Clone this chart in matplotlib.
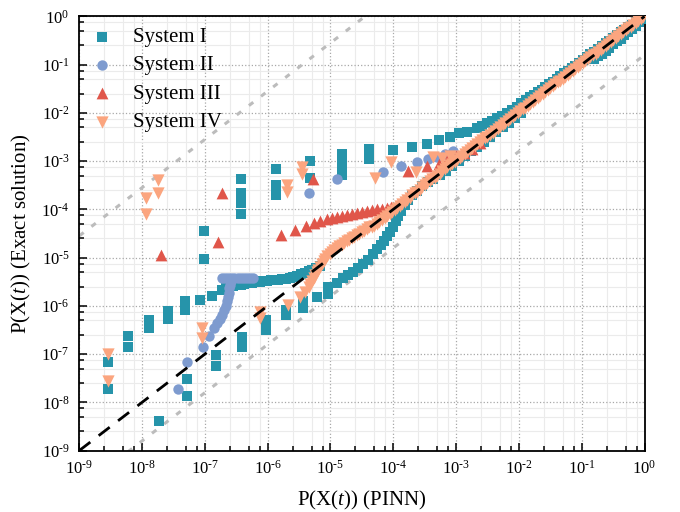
import numpy as np
import matplotlib
matplotlib.use('Agg')
import matplotlib.pyplot as plt
from matplotlib.ticker import LogLocator, FuncFormatter, NullFormatter

plt.rcParams['font.family'] = 'Liberation Serif'
plt.rcParams['mathtext.fontset'] = 'custom'
plt.rcParams['mathtext.rm'] = 'Liberation Serif'
plt.rcParams['mathtext.it'] = 'Liberation Serif:italic'

# all values are log10 of the probabilities (x = PINN, y = exact)
sys1_pts = [
    # scattered low-probability points
    (-8.55, -7.16), (-8.55, -7.73), (-8.22, -6.63), (-8.22, -6.85),
    (-7.89, -6.30), (-7.89, -6.45), (-7.59, -6.10), (-7.59, -6.27),
    (-7.32, -5.90), (-7.32, -6.08), (-7.73, -8.38), (-7.28, -7.52),
    (-7.28, -7.87), (-6.83, -7.02), (-6.83, -7.24), (-6.41, -6.65),
    (-6.41, -6.85), (-7.08, -5.88), (-6.89, -5.80), (-7.01, -4.44),
    (-7.01, -5.03), (-6.42, -3.37), (-6.42, -3.66), (-6.42, -3.86),
    (-6.42, -4.09), (-5.87, -3.17), (-5.87, -3.50), (-5.87, -3.70),
    (-5.33, -3.00), (-5.33, -3.34), (-4.82, -2.85), (-4.82, -3.00),
    (-4.82, -3.15), (-4.82, -3.28), (-4.38, -2.75), (-4.38, -2.95),
    # upper branch
    (-4.00, -2.77), (-3.71, -2.71), (-3.46, -2.65), (-3.28, -2.56),
    (-3.10, -2.50), (-2.96, -2.42), (-2.83, -2.39), (-2.67, -2.32),
    (-2.59, -2.28), (-2.51, -2.22), (-2.43, -2.17), (-2.35, -2.11),
    (-2.27, -2.06), (-2.19, -2.01), (-2.11, -1.94), (-2.03, -1.87),
    (-1.96, -1.80), (-1.88, -1.73), (-1.82, -1.67), (-1.76, -1.62),
    (-1.70, -1.57), (-1.64, -1.52), (-1.58, -1.46), (-1.52, -1.41),
    (-1.46, -1.35), (-1.40, -1.30), (-1.34, -1.24), (-1.28, -1.18),
    (-1.22, -1.13), (-1.16, -1.07), (-1.10, -1.02), (-1.04, -0.96),
    (-0.98, -0.90), (-0.92, -0.84), (-0.86, -0.79), (-0.80, -0.73),
    (-0.74, -0.67), (-0.68, -0.61), (-0.62, -0.56), (-0.56, -0.50),
    (-0.50, -0.44), (-0.44, -0.39), (-0.38, -0.33), (-0.32, -0.28),
    (-0.26, -0.22), (-0.20, -0.17), (-0.14, -0.11), (-0.08, -0.06),
    (-0.03, -0.02), (0.00, 0.00),
    # plateau branch
    (-6.73, -5.67), (-6.67, -5.64), (-6.61, -5.61), (-6.55, -5.59),
    (-6.49, -5.57), (-6.43, -5.56), (-6.37, -5.54), (-6.31, -5.53),
    (-6.25, -5.52), (-6.19, -5.51), (-6.13, -5.50), (-6.07, -5.49),
    (-6.01, -5.48), (-5.95, -5.47), (-5.89, -5.47), (-5.83, -5.46),
    (-5.77, -5.45), (-5.71, -5.44), (-5.65, -5.42), (-5.59, -5.40),
    (-5.53, -5.38), (-5.47, -5.35), (-5.41, -5.32), (-5.35, -5.28),
    (-5.29, -5.25), (-5.23, -5.21), (-5.17, -5.17),
    # lower S branch
    (-6.02, -6.30), (-6.02, -6.50), (-5.71, -6.08), (-5.71, -6.20),
    (-5.44, -5.90), (-5.44, -6.05), (-5.22, -5.81), (-5.04, -5.60),
    (-5.04, -5.75), (-4.90, -5.53), (-4.80, -5.43), (-4.72, -5.36),
    (-4.64, -5.29), (-4.56, -5.22), (-4.48, -5.14), (-4.40, -5.04),
    (-4.32, -4.92), (-4.26, -4.83), (-4.20, -4.74), (-4.15, -4.65),
    (-4.10, -4.56), (-4.05, -4.46), (-4.00, -4.36), (-3.96, -4.25),
    (-3.92, -4.14), (-3.87, -4.03), (-3.82, -3.92), (-3.76, -3.81),
    (-3.70, -3.71), (-3.62, -3.61), (-3.54, -3.52), (-3.45, -3.44),
    (-3.36, -3.37), (-3.26, -3.29), (-3.16, -3.20), (-3.06, -3.10),
    (-2.96, -3.00), (-2.86, -2.90), (-2.76, -2.80), (-2.66, -2.70),
    (-2.56, -2.60), (-2.46, -2.50), (-2.36, -2.40), (-2.26, -2.30),
    (-2.16, -2.20), (-2.06, -2.10), (-1.96, -2.00),
    (-0.80, -0.89), (-0.74, -0.83), (-0.68, -0.77), (-0.62, -0.71),
    (-0.56, -0.65), (-0.50, -0.58), (-0.44, -0.52), (-0.38, -0.46),
    (-0.32, -0.39), (-0.26, -0.33), (-0.20, -0.26), (-0.14, -0.19),
    (-0.08, -0.12), (-0.03, -0.06),
]

sys2_pts = [
    (-7.43, -7.73), (-7.29, -7.16), (-7.03, -6.85), (-6.93, -6.63),
    (-6.85, -6.45), (-6.80, -6.36), (-6.76, -6.27), (-6.72, -6.18),
    (-6.69, -6.09), (-6.67, -6.00), (-6.65, -5.91), (-6.63, -5.82),
    (-6.62, -5.73), (-6.61, -5.64), (-6.60, -5.56), (-6.59, -5.48),
    (-6.58, -5.43),
    (-6.73, -5.42), (-6.68, -5.42), (-6.63, -5.42), (-6.53, -5.42),
    (-6.48, -5.42), (-6.43, -5.42), (-6.38, -5.42), (-6.33, -5.42),
    (-6.28, -5.42), (-6.23, -5.42),
    (-5.34, -3.66), (-4.90, -3.38), (-4.16, -3.22), (-3.87, -3.10),
    (-3.62, -3.01), (-3.44, -2.96), (-3.31, -2.91), (-3.18, -2.85),
    (-3.05, -2.80),
]

sys3_pts = [
    (-7.70, -4.95), (-6.72, -3.66), (-6.79, -4.67), (-5.28, -3.38),
    (-5.79, -4.53), (-5.56, -4.43), (-5.39, -4.35), (-5.27, -4.29),
    (-5.17, -4.25), (-5.06, -4.21), (-4.98, -4.18), (-4.90, -4.16),
    (-4.82, -4.13), (-4.74, -4.11), (-4.66, -4.09), (-4.58, -4.07),
    (-4.50, -4.05), (-4.42, -4.03), (-4.34, -4.01), (-4.26, -4.00),
    (-4.18, -3.99), (-4.10, -3.97), (-4.03, -3.96),
    (-3.76, -3.21), (-3.47, -3.10), (-3.28, -3.05), (-3.15, -2.98),
    (-3.00, -2.90), (-2.88, -2.84), (-2.75, -2.74), (-2.62, -2.62),
]

sys4_pts = [
    (-8.55, -6.99), (-8.55, -7.56), (-7.94, -3.77), (-7.94, -4.09),
    (-7.74, -3.39), (-7.74, -3.67), (-7.05, -6.45), (-7.05, -6.67),
    (-6.12, -6.13), (-6.12, -6.26), (-5.70, -3.50), (-5.70, -3.64),
    (-5.46, -3.12), (-5.46, -3.26), (-5.67, -5.98), (-5.49, -5.81),
    (-5.41, -5.71), (-4.29, -3.36), (-4.03, -3.01), (-3.64, -3.22),
    (-3.36, -2.91), (-3.22, -2.93), (-3.10, -2.90),
    (-5.35, -5.60), (-5.32, -5.54), (-5.30, -5.48), (-5.27, -5.42),
    (-5.25, -5.36), (-5.22, -5.30), (-5.20, -5.25), (-5.17, -5.19),
    (-5.14, -5.13), (-5.11, -5.07), (-5.08, -5.02), (-5.05, -4.97),
    (-5.01, -4.93), (-4.97, -4.89), (-4.94, -4.85), (-4.90, -4.81),
    (-4.86, -4.77), (-4.82, -4.73), (-4.78, -4.70), (-4.74, -4.66),
    (-4.70, -4.63), (-4.66, -4.60), (-4.62, -4.57), (-4.58, -4.54),
    (-4.54, -4.51), (-4.50, -4.47), (-4.46, -4.44), (-4.42, -4.41),
    (-4.38, -4.37), (-4.34, -4.36), (-4.30, -4.34), (-4.26, -4.30),
    (-4.22, -4.26), (-4.18, -4.22), (-4.14, -4.18), (-4.10, -4.14),
    (-4.06, -4.10), (-4.02, -4.05), (-3.98, -4.01), (-3.94, -3.97),
    (-3.90, -3.93), (-3.86, -3.88), (-3.82, -3.84), (-3.78, -3.80),
    (-3.74, -3.76), (-3.70, -3.71), (-3.66, -3.67), (-3.62, -3.63),
    (-3.58, -3.59), (-3.54, -3.54), (-3.50, -3.50), (-3.46, -3.46),
    (-3.42, -3.42), (-3.38, -3.38), (-3.34, -3.34), (-3.30, -3.30),
    (-3.26, -3.26), (-3.22, -3.21), (-3.18, -3.17), (-3.14, -3.13),
    (-3.10, -3.09), (-3.06, -3.05), (-3.02, -3.01), (-2.98, -2.97),
    (-2.94, -2.93), (-2.90, -2.89), (-2.86, -2.85), (-2.82, -2.81),
    (-2.78, -2.77), (-2.74, -2.73), (-2.70, -2.69), (-2.66, -2.65),
    (-2.62, -2.61), (-2.58, -2.57), (-2.54, -2.53), (-2.50, -2.49),
    (-2.46, -2.45), (-2.42, -2.41), (-2.38, -2.37), (-2.34, -2.33),
    (-2.30, -2.29), (-2.26, -2.25), (-2.22, -2.21), (-2.18, -2.17),
    (-2.14, -2.13), (-2.10, -2.09), (-2.06, -2.05), (-2.02, -2.01),
    (-1.98, -1.97), (-1.94, -1.93), (-1.90, -1.89), (-1.86, -1.85),
    (-1.82, -1.81), (-1.78, -1.77), (-1.74, -1.73), (-1.70, -1.69),
    (-1.66, -1.65), (-1.62, -1.61), (-1.58, -1.57), (-1.54, -1.53),
    (-1.50, -1.49), (-1.46, -1.45), (-1.42, -1.41), (-1.38, -1.37),
    (-1.34, -1.33), (-1.30, -1.29), (-1.26, -1.25), (-1.22, -1.21),
    (-1.18, -1.17), (-1.14, -1.13), (-1.10, -1.09), (-1.06, -1.05),
    (-1.02, -1.01), (-0.98, -0.97), (-0.94, -0.93), (-0.90, -0.89),
    (-0.86, -0.85), (-0.82, -0.81), (-0.78, -0.77), (-0.74, -0.73),
    (-0.70, -0.69), (-0.66, -0.65), (-0.62, -0.61), (-0.58, -0.57),
    (-0.54, -0.53), (-0.50, -0.49), (-0.46, -0.45), (-0.42, -0.41),
    (-0.38, -0.37), (-0.34, -0.33), (-0.30, -0.29), (-0.26, -0.25),
    (-0.22, -0.21), (-0.18, -0.17), (-0.14, -0.13), (-0.10, -0.09),
    (-0.06, -0.05), (-0.02, -0.02),
]

labels = ['System I', 'System II', 'System III', 'System IV']
colors = ['#2694aa', '#7e9bcf', '#e0564a', '#fba57f']
markers = ['s', 'o', '^', 'v']
sizes = [46, 56, 72, 78]

# reference lines: y = x * 10**k
ref_x = [1e-9, 1.0]
band_k = [4.45, -0.80]

fig = plt.figure(figsize=(6.8, 5.12), dpi=100)
ax = fig.add_axes([0.1166, 0.120, 0.8312, 0.848])

for k in band_k:
    ax.plot(ref_x, [v * 10 ** k for v in ref_x], color='#bcbcbc', lw=2.2,
            ls=(0, (1.8, 3.2)), zorder=2)

for pts, lab, c, m, s in zip([sys1_pts, sys2_pts, sys3_pts, sys4_pts],
                             labels, colors, markers, sizes):
    arr = np.array(pts)
    ax.scatter(10 ** arr[:, 0], 10 ** arr[:, 1], s=s, c=c, marker=m,
               linewidths=0, label=lab, zorder=3)

ax.plot(ref_x, ref_x, color='black', lw=2.0, ls=(0, (5, 3.8)), zorder=5)

ax.set_xscale('log')
ax.set_yscale('log')
ax.set_xlim(1e-9, 1)
ax.set_ylim(1e-9, 1)


def fmt(v, _):
    n = int(round(np.log10(v)))
    if n == 0:
        return r'$10^{0}$'
    return r'$10^{\text{-%d}}$' % (-n)


for axis in (ax.xaxis, ax.yaxis):
    axis.set_major_locator(LogLocator(base=10, numticks=20))
    axis.set_minor_locator(LogLocator(base=10, subs=[2.5, 5.0, 7.5], numticks=20))
    axis.set_major_formatter(FuncFormatter(fmt))
    axis.set_minor_formatter(NullFormatter())

ax.tick_params(which='both', direction='in', top=False, right=False, width=1.1)
ax.tick_params(which='major', length=6, labelsize=12, pad=7)
ax.tick_params(which='minor', length=3.5)

ax.set_axisbelow(True)
ax.grid(which='major', ls=':', color='#a8a8a8', lw=0.9)
ax.grid(which='minor', ls='-', color='#ebebeb', lw=0.8)
for sp in ax.spines.values():
    sp.set_linewidth(1.3)

ax.set_xlabel(r'P(X($\mathit{t}$)) (PINN)', fontsize=15, labelpad=8)
ax.set_ylabel(r'P(X($\mathit{t}$)) (Exact solution)', fontsize=15, labelpad=6)

ax.legend(loc='upper left', bbox_to_anchor=(0.0, 1.008), frameon=False,
          fontsize=15, handlelength=0.8, handletextpad=1.1, labelspacing=0.42,
          borderaxespad=0.3)

fig.savefig('out.png', dpi=100)
